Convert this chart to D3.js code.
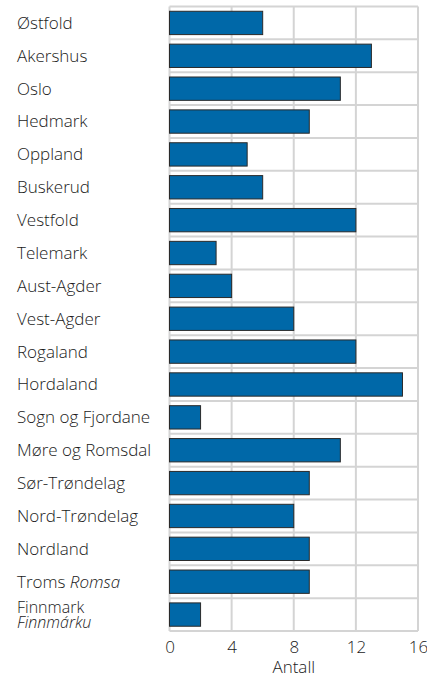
<!DOCTYPE html>
<html><head><meta charset="utf-8">
<script src="https://cdn.jsdelivr.net/npm/d3@7"></script>
<style>body{margin:0;background:#fff}svg{display:block}text{font-family:"Open Sans",sans-serif;font-weight:300;fill:#1a1a1a}</style>
</head><body><svg id="c" width="427" height="679"></svg>
<script>
const categories = ["Østfold","Akershus","Oslo","Hedmark","Oppland","Buskerud","Vestfold","Telemark","Aust-Agder","Vest-Agder","Rogaland","Hordaland","Sogn og Fjordane","Møre og Romsdal","Sør-Trøndelag","Nord-Trøndelag","Nordland","Troms Romsa","Finnmark Finnmárku"];
const values = [6,13,11,9,5,6,12,3,4,8,12,15,2,11,9,8,9,9,2];
const ticks = [0,4,8,12,16];
const labelParts = {
  "Troms Romsa": [[{t:"Troms ",i:false},{t:"Romsa",i:true}]],
  "Finnmark Finnmárku": [[{t:"Finnmark",i:false}],[{t:"Finnmárku",i:true}]]
};
const svg = d3.select("#c");
const L=169.5, R=418, T=6.5, B=631;
const x = d3.scaleLinear().domain([0,16]).range([L,R]);
const y = d3.scaleBand().domain(categories).range([T,B]).paddingInner(0.29).paddingOuter(0.145);
const grid = "#d4d4d4";
svg.append("g").selectAll("line").data(ticks).join("line")
  .attr("x1",d=>x(d)).attr("x2",d=>x(d)).attr("y1",T).attr("y2",B)
  .attr("stroke",grid).attr("stroke-width",2);
const step = (B-T)/categories.length;
svg.append("g").selectAll("line").data(d3.range(categories.length+1)).join("line")
  .attr("x1",L).attr("x2",R).attr("y1",i=>T+i*step).attr("y2",i=>T+i*step)
  .attr("stroke",grid).attr("stroke-width",2);
svg.append("g").selectAll("rect").data(categories).join("rect")
  .attr("x",x(0)).attr("y",d=>y(d)).attr("width",(d,i)=>x(values[i])-x(0)).attr("height",y.bandwidth())
  .attr("fill","#0068a8").attr("stroke","#2a2a2a").attr("stroke-width",1);
const lab = svg.append("g");
categories.forEach(c=>{
  const cy = y(c)+y.bandwidth()/2;
  const parts = labelParts[c] || [[{t:c,i:false}]];
  const n = parts.length;
  parts.forEach((line,li)=>{
    const t = lab.append("text").attr("x",17).attr("y",cy + (li-(n-1)/2)*15).attr("dy","0.35em").style("font-size", n>1?"16px":"17px");
    line.forEach(p=>t.append("tspan").text(p.t).style("font-style",p.i?"italic":"normal"));
  });
});
const ax = svg.append("g").attr("transform",`translate(0,${B})`).call(d3.axisBottom(x).tickValues(ticks).tickSize(0).tickPadding(10));
ax.select(".domain").remove();
ax.selectAll("text").style("font-size","17px").style("font-family","'Open Sans',sans-serif").style("font-weight","300").attr("fill","#1a1a1a");
svg.append("text").attr("x",(L+R)/2).attr("y",673).attr("text-anchor","middle").style("font-size","17px").text("Antall");
</script></body></html>
